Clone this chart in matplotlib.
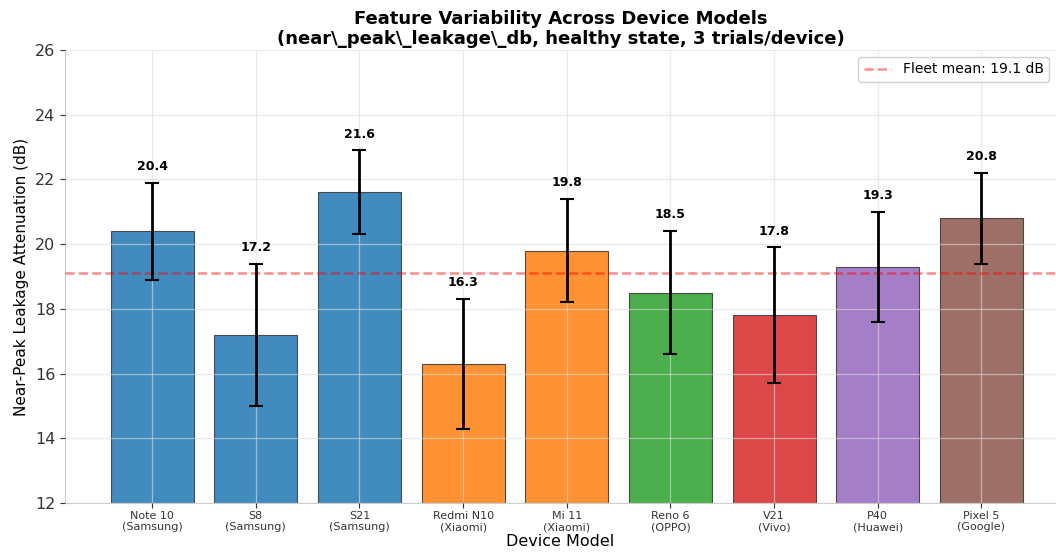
import matplotlib.pyplot as plt
import numpy as np

# Data
models = ['Note 10\n(Samsung)', 'S8\n(Samsung)', 'S21\n(Samsung)', 'Redmi N10\n(Xiaomi)',
          'Mi 11\n(Xiaomi)', 'Reno 6\n(OPPO)', 'V21\n(Vivo)', 'P40\n(Huawei)', 'Pixel 5\n(Google)']
brands = ['Samsung', 'Samsung', 'Samsung', 'Xiaomi', 'Xiaomi', 'OPPO', 'Vivo', 'Huawei', 'Google']
means = [20.4, 17.2, 21.6, 16.3, 19.8, 18.5, 17.8, 19.3, 20.8]
stds = [1.5, 2.2, 1.3, 2.0, 1.6, 1.9, 2.1, 1.7, 1.4]
fleet_mean = 19.1

brand_colors = {'Samsung': '#1f77b4', 'Xiaomi': '#ff7f0e', 'OPPO': '#2ca02c',
                'Vivo': '#d62728', 'Huawei': '#9467bd', 'Google': '#8c564b'}
colors = [brand_colors[b] for b in brands]

fig = plt.figure(figsize=(10.56, 5.53), dpi=100)
ax = fig.add_axes([0.0616, 0.0904, 0.9384, 0.8192])

x = np.arange(len(models))
ax.bar(x, means, width=0.8, color=colors, alpha=0.85,
       edgecolor='#333333', linewidth=0.8, zorder=1)
# error bars on top of the grid
ax.errorbar(x, means, yerr=stds, fmt='none', ecolor='black', elinewidth=2,
            capsize=5, capthick=1.5, zorder=4)

ax.axhline(fleet_mean, color='red', linestyle='--', alpha=0.45, linewidth=1.8,
           label=f'Fleet mean: {fleet_mean:.1f} dB', zorder=3)

for xi, m, s in zip(x, means, stds):
    ax.text(xi, m + s + 0.3, f'{m:.1f}', ha='center', va='bottom',
            fontsize=9, fontweight='bold')

ax.set_ylim(12, 26)
ax.set_xlim(-0.84, 8.72)
ax.set_xticks(x)
ax.set_xticklabels(models, fontsize=8)
ax.tick_params(axis='y', labelsize=11.5)
ax.tick_params(axis='x', pad=2)
ax.tick_params(colors='#333333')

ax.set_xlabel('Device Model', fontsize=11.5, labelpad=1)
ax.set_ylabel('Near-Peak Leakage Attenuation (dB)', fontsize=11)
ax.set_title('Feature Variability Across Device Models\n'
             '(near\\_peak\\_leakage\\_db, healthy state, 3 trials/device)',
             fontsize=13, fontweight='bold', pad=4)

ax.grid(True, color='#dddddd', alpha=0.6, linewidth=0.9, zorder=2)
ax.set_axisbelow(False)
for side in ['top', 'right']:
    ax.spines[side].set_visible(False)
for side in ['left', 'bottom']:
    ax.spines[side].set_color('#cccccc')

ax.legend(loc='upper right', fontsize=10, framealpha=0.9, edgecolor='#cccccc')

plt.savefig('out.png', dpi=100)
